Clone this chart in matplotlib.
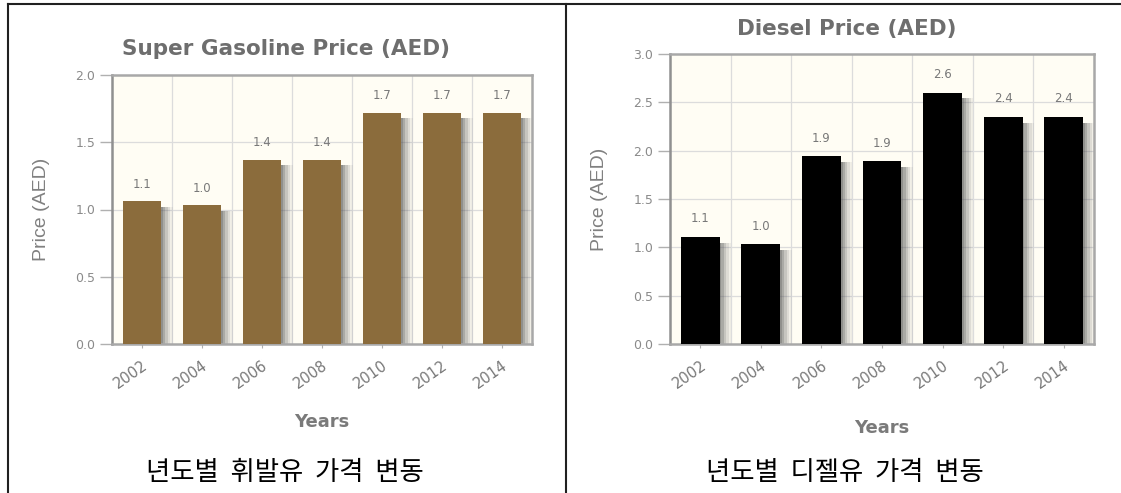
import numpy as np
import matplotlib.pyplot as plt
from matplotlib.lines import Line2D

plt.rcParams['font.family'] = ['DejaVu Sans']

years = ['2002', '2004', '2006', '2008', '2010', '2012', '2014']
gasoline = [1.06, 1.03, 1.37, 1.37, 1.72, 1.72, 1.72]
gasoline_labels = ['1.1', '1.0', '1.4', '1.4', '1.7', '1.7', '1.7']
diesel = [1.11, 1.03, 1.94, 1.89, 2.60, 2.35, 2.35]
diesel_labels = ['1.1', '1.0', '1.9', '1.9', '2.6', '2.4', '2.4']

W, H = 1121, 493
fig = plt.figure(figsize=(W / 100, H / 100), dpi=100)

GRAY = '#787878'
narrow = ['Liberation Sans', 'DejaVu Sans']


def px_axes(x0, x1, y_top, y_bot):
    return fig.add_axes([x0 / W, 1 - y_bot / H, (x1 - x0) / W, (y_bot - y_top) / H])


def bar_chart(ax, values, labels, color, ymax, yticks):
    x = np.arange(len(values))
    ax.set_facecolor('#fffdf4')
    ax.set_xlim(-0.5, len(values) - 0.5)
    ax.set_ylim(0, ymax)
    # soft shadow to the right of each bar
    for dx, a in [(0.19, 0.08), (0.15, 0.12), (0.11, 0.17), (0.07, 0.24), (0.03, 0.3)]:
        ax.bar(x + dx, np.array(values) - ymax * 0.02, width=0.64, color='#555555',
               alpha=a, linewidth=0, zorder=2)
    ax.bar(x, values, width=0.64, color=color, linewidth=0, zorder=3)
    for xi, v, lab in zip(x, values, labels):
        ax.text(xi, v + ymax * 0.04, lab, ha='center', va='bottom', fontsize=8.5,
                color=GRAY, zorder=4)
    ax.set_yticks(yticks)
    ax.set_yticklabels(['%.1f' % t for t in yticks], fontsize=9, color='#8a8a8a')
    ax.set_xticks(x)
    ax.set_xticklabels(years, rotation=35, ha='right', rotation_mode='anchor',
                       fontsize=10.5, color=GRAY)
    ax.tick_params(axis='y', length=9, color='#b0b0b0', width=1, pad=3)
    ax.tick_params(axis='x', length=3, color='#b0b0b0', pad=7)
    for t in yticks[1:-1]:
        ax.axhline(t, color='#dcdcdc', lw=0.9, zorder=1)
    for b in np.arange(0.5, len(values) - 0.5, 1):
        ax.axvline(b, color='#dcdcdc', lw=0.9, zorder=1)
    for s in ax.spines.values():
        s.set_color('#a8a8a8')
        s.set_linewidth(1.8)
    ax.spines['left'].set_color('#909090')
    ax.set_ylabel('Price (AED)', fontsize=14, color='#808080', labelpad=18, family=narrow)


ax1 = px_axes(112, 532, 75, 344)
bar_chart(ax1, gasoline, gasoline_labels, '#8b6c3c', 2.0, [0.0, 0.5, 1.0, 1.5, 2.0])

ax2 = px_axes(670, 1094, 54, 344)
bar_chart(ax2, diesel, diesel_labels, '#000000', 3.0, [0.0, 0.5, 1.0, 1.5, 2.0, 2.5, 3.0])

# titles and axis captions
fig.text(286 / W, 1 - 49 / H, 'Super Gasoline Price (AED)', ha='center', va='center',
         fontsize=15.5, fontweight='bold', color='#6e6e6e')
fig.text(847 / W, 1 - 29 / H, 'Diesel Price (AED)', ha='center', va='center',
         fontsize=15.5, fontweight='bold', color='#6e6e6e')
fig.text(322 / W, 1 - 422 / H, 'Years', ha='center', va='center',
         fontsize=13, fontweight='bold', color='#7a7a7a')
fig.text(882 / W, 1 - 428 / H, 'Years', ha='center', va='center',
         fontsize=13, fontweight='bold', color='#7a7a7a')

# Korean captions
kfont = ['Noto Sans CJK KR', 'DejaVu Sans']
fig.text(285 / W, 1 - 472 / H, '년도별  휘발유  가격  변동', ha='center', va='center',
         fontsize=19, family=kfont, color='black', fontweight='light')
fig.text(845 / W, 1 - 472 / H, '년도별  디젤유  가격  변동', ha='center', va='center',
         fontsize=19, family=kfont, color='black', fontweight='light')

# table border lines
for xs, ys in [((8, W), (4, 4)), ((8, 8), (4, H)), ((566, 566), (4, H))]:
    fig.add_artist(Line2D([xs[0] / W, xs[1] / W], [1 - ys[0] / H, 1 - ys[1] / H],
                          transform=fig.transFigure, color='#202020', lw=1.5))

fig.savefig('out.png', dpi=100)
